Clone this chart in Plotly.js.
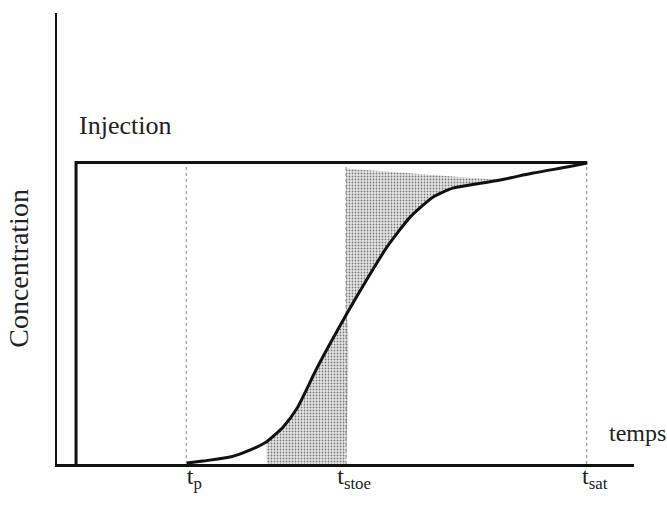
<!DOCTYPE html>
<html>
<head>
<meta charset="utf-8">
<script src="https://cdn.plot.ly/plotly-3.0.1.min.js"></script>
<style>html,body{margin:0;padding:0;background:#fff;}#chart{width:667px;height:508px;}</style>
</head>
<body>
<div id="chart"></div>
<script>
// Breakthrough curve (time in arbitrary units, concentration relative to injection)
const curveT = [22.5, 25.3, 30.0, 33.4, 36.4, 39.2, 41.6, 45.1, 50.1, 53.7, 57.2, 61.2, 65.2, 68.6, 72.1, 76.8, 82.5, 88.4, 91.9];
const curveC = [0.003, 0.010, 0.023, 0.046, 0.075, 0.123, 0.185, 0.320, 0.494, 0.612, 0.720, 0.819, 0.886, 0.915, 0.927, 0.942, 0.965, 0.985, 0.998];
// Injection step
const injT = [3.3, 3.3, 91.9];
const injC = [0, 1, 1];
// Characteristic times
const markerTimes = [22.4, 50.1, 91.8];
const markerLabels = ['t<sub>p</sub>', 't<sub>stoe</sub>', 't<sub>sat</sub>'];
const markerTop = 0.988;
// Stippled zones (bounds in time and concentration)
const lowZoneStart = 36.4;
const highZoneEnd = 76.8;
const highZoneTop = 0.98;

const tStoe = markerTimes[1];

// Lower zone: right of the curve, left of t_stoe
const lowX = [lowZoneStart], lowY = [0];
curveT.forEach((t, i) => { if (t >= lowZoneStart && t <= tStoe) { lowX.push(t); lowY.push(curveC[i]); } });
lowX.push(tStoe); lowY.push(0);
// Upper zone: right of t_stoe, above the curve
const upX = [], upY = [];
curveT.forEach((t, i) => { if (t >= tStoe && t <= highZoneEnd) { upX.push(t); upY.push(curveC[i]); } });
upX.push(tStoe); upY.push(highZoneTop);

const stipple = {shape: '.', size: 3, solidity: 0.3, fgcolor: '#7a7a7a', bgcolor: '#e8e8e8'};

const traces = [
  {x: lowX, y: lowY, mode: 'lines', fill: 'toself', line: {width: 0, color: 'rgba(0,0,0,0)', shape: 'spline', smoothing: 0.5},
   fillcolor: '#dcdcdc', fillpattern: stipple, hoverinfo: 'skip', showlegend: false},
  {x: upX, y: upY, mode: 'lines', fill: 'toself', line: {width: 0, color: 'rgba(0,0,0,0)'},
   fillcolor: '#dcdcdc', fillpattern: stipple, hoverinfo: 'skip', showlegend: false}
];
markerTimes.forEach(t => {
  traces.push({x: [t, t], y: [0, markerTop], mode: 'lines', line: {color: '#8a8a8a', width: 1, dash: 'dot'},
    hoverinfo: 'skip', showlegend: false});
});
traces.push({x: injT, y: injC, mode: 'lines', line: {color: '#111', width: 3}, showlegend: false, name: 'Injection'});
traces.push({x: curveT, y: curveC, mode: 'lines', line: {color: '#111', width: 3, shape: 'spline', smoothing: 0.6}, showlegend: false, name: 'Sortie'});

const serif = 'Liberation Serif, Times New Roman, serif';

const layout = {
  width: 667, height: 508,
  margin: {l: 57, r: 33, t: 13, b: 44},
  paper_bgcolor: '#fff', plot_bgcolor: '#fff',
  font: {family: serif, color: '#222'},
  xaxis: {
    range: [0, 100], showgrid: false, zeroline: false,
    showline: true, linecolor: '#111', linewidth: 2.5,
    tickvals: markerTimes, ticktext: markerLabels, ticks: '',
    tickfont: {family: serif, size: 24, color: '#222'},
    ticklabelshift: 8, ticklabelstandoff: -11
  },
  yaxis: {
    range: [0, 1.496], showgrid: false, zeroline: false,
    showline: true, linecolor: '#111', linewidth: 2.5,
    showticklabels: false, ticks: ''
  },
  annotations: [
    {x: -0.066, y: 0.435, xref: 'paper', yref: 'paper', text: 'Concentration', showarrow: false,
     textangle: -90, xanchor: 'center', yanchor: 'middle', font: {family: serif, size: 28, color: '#222'}},
    {x: 3.5, y: 1.124, xref: 'x', yref: 'y', text: 'Injection', showarrow: false,
     xanchor: 'left', yanchor: 'middle', font: {family: serif, size: 26, color: '#222'}},
    {x: 95.3, y: 0.103, xref: 'x', yref: 'y', text: 'temps', showarrow: false,
     xanchor: 'left', yanchor: 'middle', font: {family: serif, size: 24, color: '#222'}}
  ]
};

Plotly.newPlot('chart', traces, layout, {staticPlot: true, displayModeBar: false});
</script>
</body>
</html>
